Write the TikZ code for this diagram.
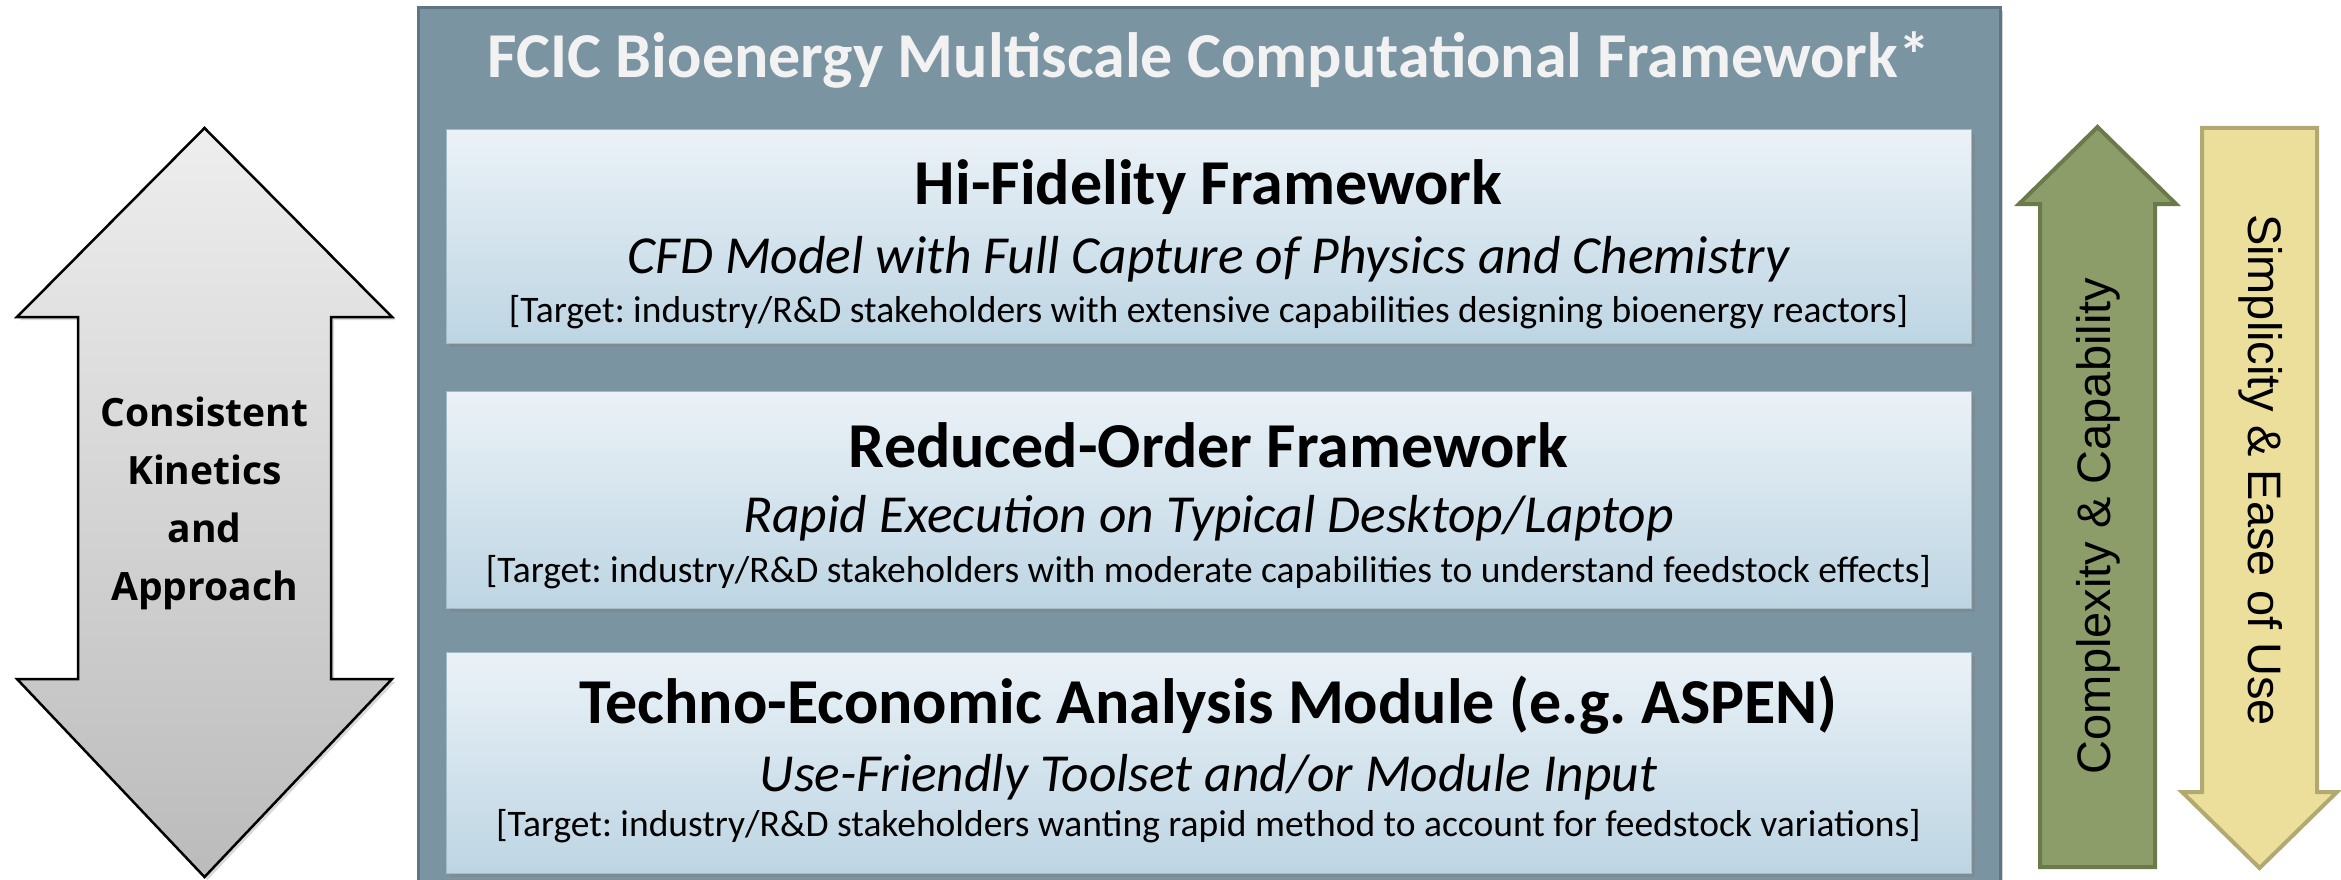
\documentclass[tikz,border=0pt]{standalone}
\usepackage{fontspec}
\setmainfont{Carlito}
\newfontfamily\kinfont{Open Sans}
\newfontfamily\sidefont{Liberation Sans}
\usetikzlibrary{shadows}
\frenchspacing

\definecolor{framefill}{HTML}{7A94A2}
\definecolor{frameedge}{HTML}{5D7584}
\definecolor{tiertop}{HTML}{EBF2F7}
\definecolor{tierbot}{HTML}{BDD5E3}
\definecolor{tieredge}{HTML}{A3BBC9}
\definecolor{titlewhite}{HTML}{F2F2F2}
\definecolor{greyhi}{HTML}{EEEEEE}
\definecolor{greylo}{HTML}{BBBBBB}
\definecolor{olivefill}{HTML}{8C9D6A}
\definecolor{oliveedge}{HTML}{6A7A4A}
\definecolor{strawfill}{HTML}{ECDF9C}
\definecolor{strawedge}{HTML}{B2A872}

\tikzset{
  frame/.style={fill=framefill, draw=frameedge, line width=3pt,
    drop shadow={shadow xshift=3pt, shadow yshift=-3pt, opacity=0.35}},
  tier/.style={draw=tieredge, line width=1pt, top color=tiertop, bottom color=tierbot,
    minimum width=1525pt, inner sep=0pt,
    drop shadow={shadow xshift=4pt, shadow yshift=-4pt, opacity=0.4}},
  headline/.style={font=\fontsize{64}{70}\selectfont\bfseries, text=black},
  subline/.style={font=\fontsize{53.5}{58}\selectfont\itshape, text=black},
  targetline/.style={font=\fontsize{37.5}{42}\selectfont, text=black},
  greyarrow/.style={draw=black, line width=2.5pt, line join=miter,
    top color=greyhi, bottom color=greylo,
    drop shadow={shadow xshift=3pt, shadow yshift=-3pt, opacity=0.3}},
  upbar/.style={fill=olivefill, draw=oliveedge, line width=4pt, line join=miter},
  downbar/.style={fill=strawfill, draw=strawedge, line width=4pt, line join=miter},
  sidetext/.style={font=\sidefont\fontsize{47}{50}\selectfont, text=black}
}

\begin{document}
\begin{tikzpicture}[x=1pt, y=-1pt]
\useasboundingbox (0,0) rectangle (2341,880);
\clip (0,0) rectangle (2341,880);

% outer framework panel
\draw[frame] (418,8) rectangle (2000,910);
\node[font=\fontsize{64}{70}\selectfont\bfseries, text=titlewhite] (title) at (1209,60)
  {FCIC Bioenergy Multiscale Computational Framework*};

% three tiers
\node[tier, minimum height=213pt] (hifi) at (1208.5,236.5) {};
\node[headline] (hifiA) at (1208.5,187) {Hi-Fidelity Framework};
\node[subline] (hifiB) at (1208.5,259) {CFD Model with Full Capture of Physics and Chemistry};
\node[targetline] (hifiC) at (1208.5,312) {[Target: industry/R\&D stakeholders with extensive capabilities designing bioenergy reactors]};

\node[tier, minimum height=217pt] (rom) at (1208.5,499.5) {};
\node[headline] (romA) at (1208.5,445) {Reduced-Order Framework};
\node[subline] (romB) at (1208.5,518) {Rapid Execution on Typical Desktop/Laptop};
\node[targetline] (romC) at (1208.5,572) {[Target: industry/R\&D stakeholders with moderate capabilities to understand feedstock effects]};

\node[tier, minimum height=221pt] (tea) at (1208.5,762.5) {};
\node[headline] (teaA) at (1208.5,705) {Techno-Economic Analysis Module (e.g. ASPEN)};
\node[subline] (teaB) at (1208.5,777) {Use-Friendly Toolset and/or Module Input};
\node[targetline] (teaC) at (1208.5,826) {[Target: industry/R\&D stakeholders wanting rapid method to account for feedstock variations]};

% left double-headed arrow
\draw[greyarrow] (204.5,128) -- (392,317) -- (331,317) -- (331,679) -- (392,679)
  -- (204.5,877) -- (17,679) -- (78,679) -- (78,317) -- (17,317) -- cycle;
\node[font=\kinfont\bfseries\fontsize{39}{58}\selectfont, align=center, text=black] (kin) at (204.5,503)
  {Consistent\\Kinetics\\and\\Approach};

% right-hand trend arrows
\draw[upbar] (2097.5,127) -- (2176,204) -- (2155,204) -- (2155,867) -- (2040,867)
  -- (2040,204) -- (2019,204) -- cycle;
\node[sidetext, rotate=90] (cap) at (2098,526) {Complexity \& Capability};

\draw[downbar] (2202,128) -- (2317,128) -- (2317,792) -- (2337,792) -- (2259.5,868)
  -- (2182,792) -- (2202,792) -- cycle;
\node[sidetext, rotate=-90] (ease) at (2261,470) {Simplicity \& Ease of Use};
\end{tikzpicture}
\end{document}
